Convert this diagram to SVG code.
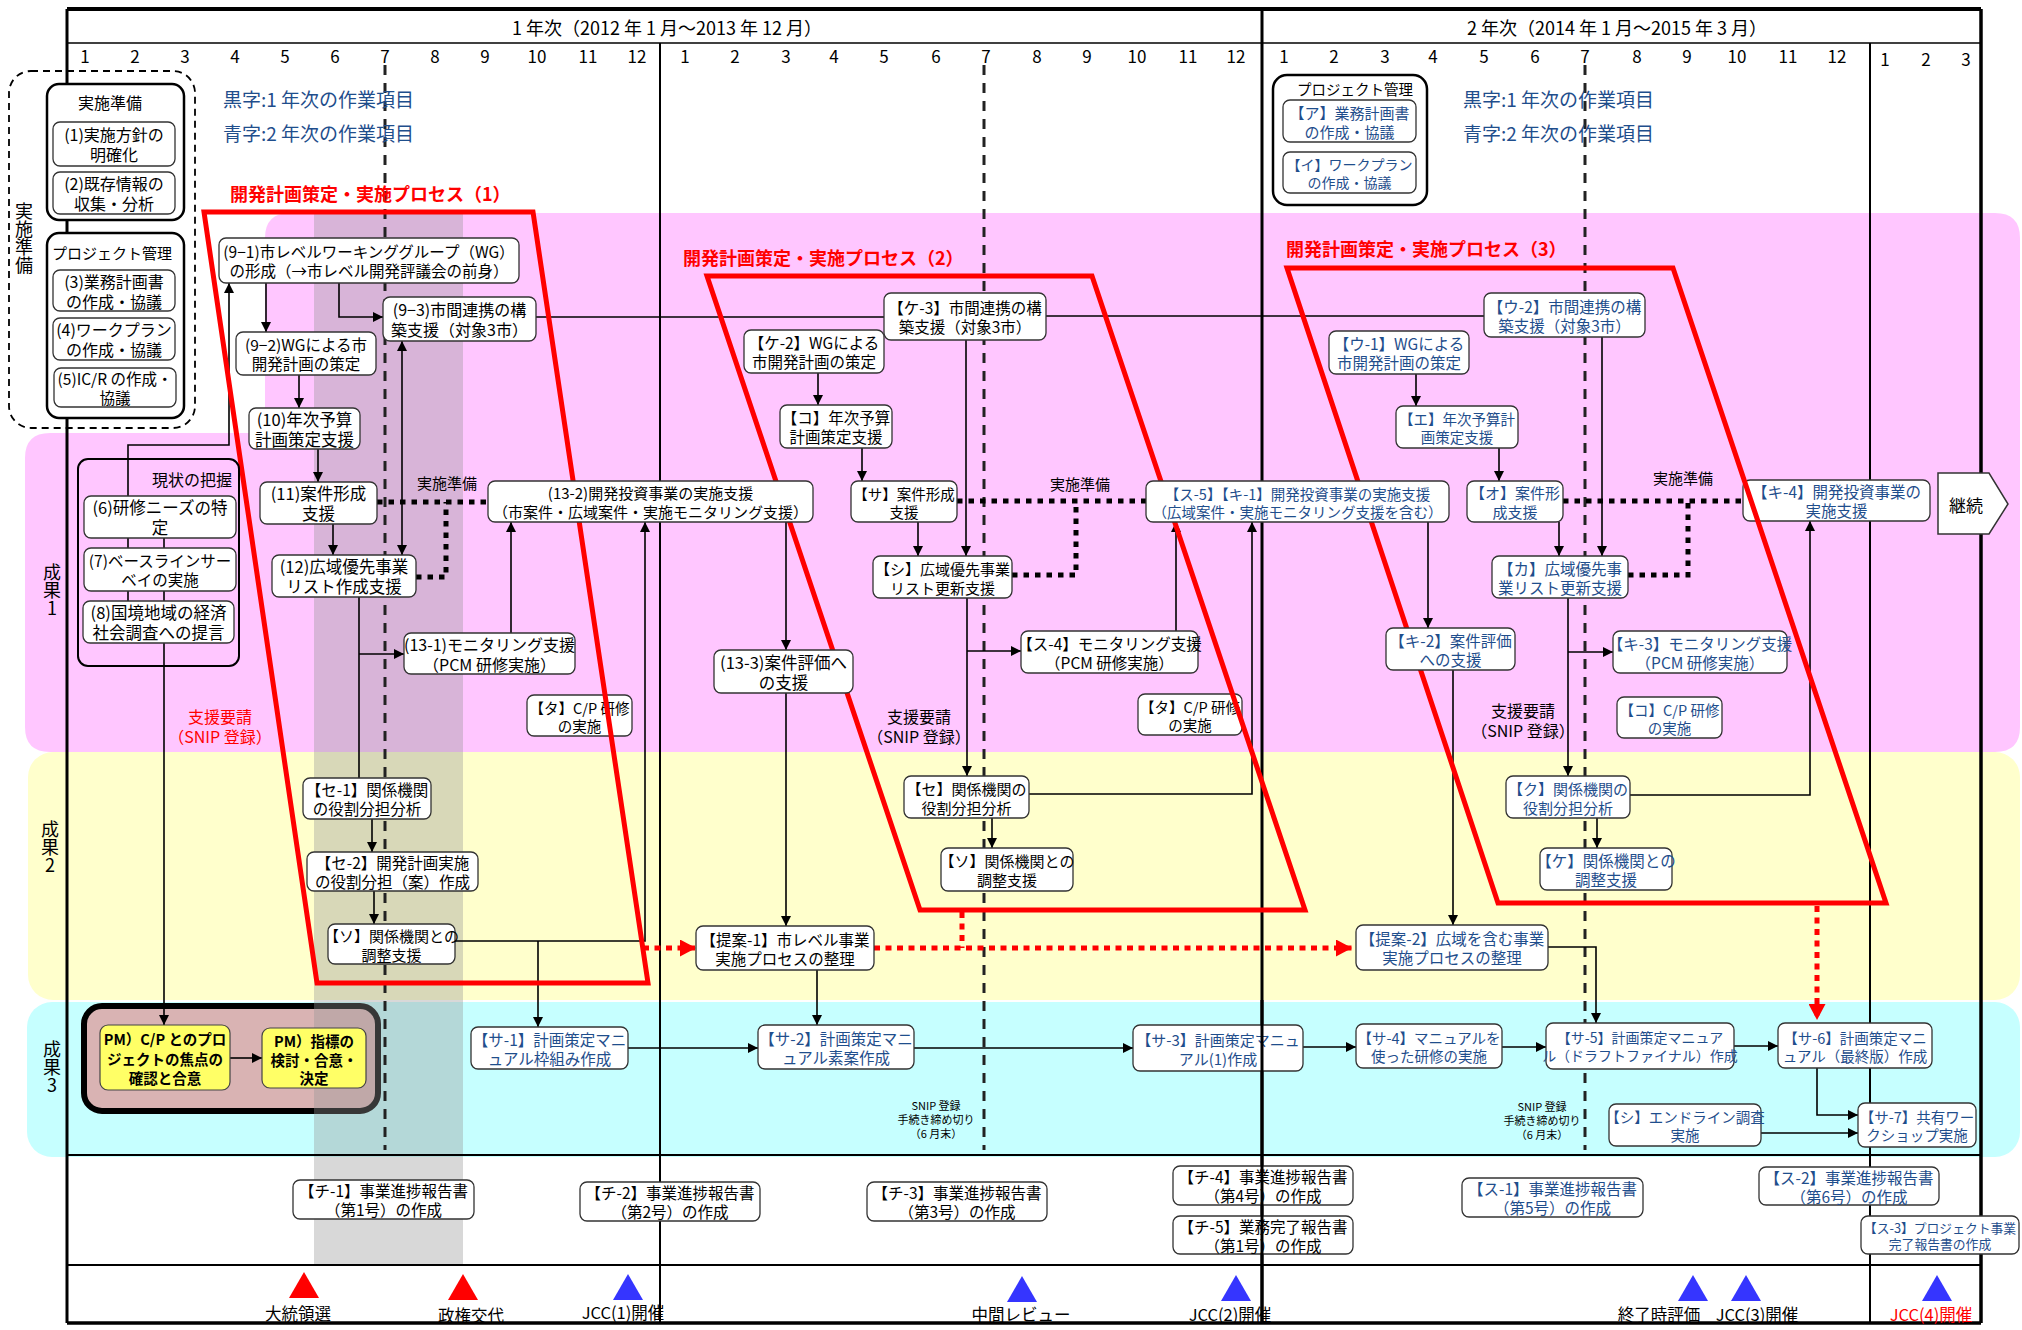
<svg xmlns="http://www.w3.org/2000/svg" width="2022" height="1330" viewBox="0 0 2022 1330">
<defs>
<style>
.t{font-family:"Noto Sans CJK JP","Noto Sans",sans-serif;text-anchor:middle;dominant-baseline:central;fill:#000}
.s{text-anchor:start}
.b{fill:#1F4E8C}
.r{fill:#FF0000}
.bold{font-weight:bold}
.v{writing-mode:vertical-rl;text-orientation:upright;font-size:18px}
.box{fill:#fff;stroke:#333;stroke-width:1.3}
.ln{fill:none;stroke:#000;stroke-width:1.6}
.dot{fill:none;stroke:#000;stroke-width:5;stroke-dasharray:5.5 6}
.rdot{fill:none;stroke:#FF0000;stroke-width:5;stroke-dasharray:6 5.5}
.proc{fill:none;stroke:#FF0000;stroke-width:5;stroke-linejoin:miter}
.dash{stroke:#222;stroke-width:3;stroke-dasharray:10 8}
.fr{stroke:#000;fill:none}
.ybox{fill:#FFFF66;stroke:#444;stroke-width:1.2}
</style>
<marker id="ah" viewBox="0 0 10 10" refX="10" refY="5" markerWidth="10" markerHeight="10" markerUnits="userSpaceOnUse" orient="auto-start-reverse"><path d="M0,0 L10,5 L0,10 z" fill="#000"/></marker>
<marker id="rah" viewBox="0 0 10 10" refX="10" refY="5" markerWidth="16" markerHeight="17" markerUnits="userSpaceOnUse" orient="auto" preserveAspectRatio="none"><path d="M0,0 L10,5 L0,10 z" fill="#FF0000"/></marker>
</defs>

<rect width="2022" height="1330" fill="#fff"/>

<g id="bands">
<path d="M290,213 H1995 Q2020,213 2020,238 V727 Q2020,752 1995,752 H50 Q25,752 25,727 V458 Q25,433 50,433 H265 V238 Q265,213 290,213 Z" fill="#FFC6FF"/>
<rect x="28" y="752" width="1992" height="248" rx="25" fill="#FFFFCC"/>
<rect x="27" y="1002" width="1993" height="155" rx="25" fill="#C6FFFF"/>
</g>

<g id="n_pm">
<rect x="84" y="1006" width="294" height="105" rx="18" fill="#D9B3B3" stroke="#000" stroke-width="6"/>
</g>

<rect id="shade" x="314" y="213" width="149" height="1052" fill="#969696" opacity="0.37"/>

<g id="frame">
<line class="fr" x1="67" y1="9" x2="1981" y2="9" stroke-width="4"/>
<line class="fr" x1="67" y1="9" x2="67" y2="1323" stroke-width="3"/>
<line class="fr" x1="1981" y1="9" x2="1981" y2="1323" stroke-width="3.5"/>
<line class="fr" x1="67" y1="1323" x2="1981" y2="1323" stroke-width="3.5"/>
<line class="fr" x1="67" y1="43" x2="1981" y2="43" stroke-width="1.5"/>
<line class="fr" x1="1262" y1="9" x2="1262" y2="1323" stroke-width="3"/>
<line class="fr" x1="660" y1="43" x2="660" y2="1323" stroke-width="2"/>
<line class="fr" x1="1870" y1="43" x2="1870" y2="1323" stroke-width="2"/>
<line class="fr" x1="67" y1="1155" x2="1981" y2="1155" stroke-width="2"/>
<line class="fr" x1="67" y1="1265" x2="1981" y2="1265" stroke-width="2"/>
<line class="dash" x1="385" y1="65" x2="385" y2="1150"/>
<line class="dash" x1="984" y1="65" x2="984" y2="1150"/>
<line class="dash" x1="1585" y1="65" x2="1585" y2="1150"/>
</g>

<g id="header">
<text class="t" x="667" y="27" style="font-size:18px">1 年次（2012 年 1 月～2013 年 12 月）</text>
<text class="t" x="1617" y="27" style="font-size:18px">2 年次（2014 年 1 月～2015 年 3 月）</text>
<text class="t" y="55" style="font-size:17px"><tspan x="85">1</tspan><tspan x="135">2</tspan><tspan x="185">3</tspan><tspan x="235">4</tspan><tspan x="285">5</tspan><tspan x="335">6</tspan><tspan x="385">7</tspan><tspan x="435">8</tspan><tspan x="485">9</tspan><tspan x="537">10</tspan><tspan x="588">11</tspan><tspan x="637">12</tspan><tspan x="685">1</tspan><tspan x="735">2</tspan><tspan x="786">3</tspan><tspan x="834">4</tspan><tspan x="884">5</tspan><tspan x="936">6</tspan><tspan x="986">7</tspan><tspan x="1037">8</tspan><tspan x="1087">9</tspan><tspan x="1137">10</tspan><tspan x="1188">11</tspan><tspan x="1236">12</tspan><tspan x="1284">1</tspan><tspan x="1334">2</tspan><tspan x="1385">3</tspan><tspan x="1433">4</tspan><tspan x="1484">5</tspan><tspan x="1535">6</tspan><tspan x="1585">7</tspan><tspan x="1637">8</tspan><tspan x="1687">9</tspan><tspan x="1737">10</tspan><tspan x="1788">11</tspan><tspan x="1837">12</tspan></text>
<text class="t" y="58" style="font-size:17px"><tspan x="1885">1</tspan><tspan x="1926">2</tspan><tspan x="1966">3</tspan></text>
<text class="t s b" x="223" y="98" style="font-size:19px">黒字:1 年次の作業項目</text>
<text class="t s b" x="223" y="132" style="font-size:19px">青字:2 年次の作業項目</text>
<text class="t s b" x="1463" y="98" style="font-size:19px">黒字:1 年次の作業項目</text>
<text class="t s b" x="1463" y="132" style="font-size:19px">青字:2 年次の作業項目</text>
</g>

<g id="rowlabels">
<text class="t v" x="24" y="238">実施準備</text>
<text class="t v" x="52" y="590">成果1</text>
<text class="t v" x="50" y="847">成果2</text>
<text class="t v" x="52" y="1067">成果3</text>
</g>

<g id="notes">
<text class="t r" style="font-size:16px"><tspan x="220" y="716">支援要請</tspan><tspan x="220" y="736">（SNIP 登録）</tspan></text>
<text class="t" style="font-size:16px"><tspan x="919" y="716">支援要請</tspan><tspan x="919" y="736">（SNIP 登録）</tspan></text>
<text class="t" style="font-size:16px"><tspan x="1523" y="710">支援要請</tspan><tspan x="1523" y="730">（SNIP 登録）</tspan></text>
<text class="t" x="447" y="482" style="font-size:15px">実施準備</text>
<text class="t" x="1080" y="483" style="font-size:15px">実施準備</text>
<text class="t" x="1683" y="477" style="font-size:15px">実施準備</text>
<text class="t" style="font-size:11px"><tspan x="936" y="1105">SNIP 登録</tspan><tspan x="936" y="1119">手続き締め切り</tspan><tspan x="936" y="1133">（6 月末）</tspan></text>
<text class="t" style="font-size:11px"><tspan x="1542" y="1106">SNIP 登録</tspan><tspan x="1542" y="1120">手続き締め切り</tspan><tspan x="1542" y="1134">（6 月末）</tspan></text>
</g>

<g id="connectors">
<path class="ln" d="M128,601 V445 H229 V283" marker-end="url(#ah)"/>
<path class="ln" d="M164,538 V1025" marker-end="url(#ah)"/>
<path class="ln" d="M266,283 V332" marker-end="url(#ah)"/>
<path class="ln" d="M339,283 V317 H383" marker-end="url(#ah)"/>
<path class="ln" d="M299,375 V408" marker-end="url(#ah)"/>
<path class="ln" d="M318,449 V482" marker-end="url(#ah)"/>
<path class="ln" d="M333,524 V555" marker-end="url(#ah)"/>
<path class="ln" d="M402,341 V555" marker-start="url(#ah)" marker-end="url(#ah)"/>
<path class="ln" d="M359,597 V778"/>
<path class="ln" d="M359,654 H404" marker-end="url(#ah)"/>
<path class="ln" d="M511,633 V522" marker-end="url(#ah)"/>
<path class="ln" d="M372,819 V852" marker-end="url(#ah)"/>
<path class="ln" d="M374,891 V924" marker-end="url(#ah)"/>
<path class="ln" d="M455,941 H645 V522" marker-end="url(#ah)"/>
<path class="ln" d="M538,941 V1027" marker-end="url(#ah)"/>
<path class="ln" d="M536,317 H884"/>
<path class="ln" d="M1046,316 H1484"/>
<path class="ln" d="M786,522 V650" marker-end="url(#ah)"/>
<path class="ln" d="M786,693 V926" marker-end="url(#ah)"/>
<path class="ln" d="M817,970 V1025" marker-end="url(#ah)"/>
<path class="ln" d="M628,1048 H758" marker-end="url(#ah)"/>
<path class="ln" d="M914,1048 H1133" marker-end="url(#ah)"/>
<path class="ln" d="M1303,1047 H1356" marker-end="url(#ah)"/>
<path class="ln" d="M1502,1047 H1546" marker-end="url(#ah)"/>
<path class="ln" d="M1734,1046 H1778" marker-end="url(#ah)"/>
<path class="ln" d="M818,373 V405" marker-end="url(#ah)"/>
<path class="ln" d="M862,448 V481" marker-end="url(#ah)"/>
<path class="ln" d="M918,522 V556" marker-end="url(#ah)"/>
<path class="ln" d="M966,340 V556" marker-end="url(#ah)"/>
<path class="ln" d="M967,598 V776" marker-end="url(#ah)"/>
<path class="ln" d="M967,651 H1021" marker-end="url(#ah)"/>
<path class="ln" d="M1176,631 V522" marker-end="url(#ah)"/>
<path class="ln" d="M992,818 V848" marker-end="url(#ah)"/>
<path class="ln" d="M1029,794 H1252 V522" marker-end="url(#ah)"/>
<path class="ln" d="M1428,522 V628" marker-end="url(#ah)"/>
<path class="ln" d="M1453,670 V925" marker-end="url(#ah)"/>
<path class="ln" d="M1416,374 V406" marker-end="url(#ah)"/>
<path class="ln" d="M1499,448 V481" marker-end="url(#ah)"/>
<path class="ln" d="M1559,522 V556" marker-end="url(#ah)"/>
<path class="ln" d="M1602,337 V556" marker-end="url(#ah)"/>
<path class="ln" d="M1568,598 V776" marker-end="url(#ah)"/>
<path class="ln" d="M1568,652 H1613" marker-end="url(#ah)"/>
<path class="ln" d="M1630,795 H1810 V521" marker-end="url(#ah)"/>
<path class="ln" d="M1597,818 V848" marker-end="url(#ah)"/>
<path class="ln" d="M1548,947 H1596 V1023" marker-end="url(#ah)"/>
<path class="ln" d="M1817,1068 V1115 H1858" marker-end="url(#ah)"/>
<path class="ln" d="M1761,1133 H1858" marker-end="url(#ah)"/>
<path class="ln" d="M230,1058 H262" marker-end="url(#ah)"/>
<path class="dot" d="M377,502 H488"/>
<path class="dot" d="M416,577 H446 V502"/>
<path class="dot" d="M957,501 H1146"/>
<path class="dot" d="M1012,575 H1076 V501"/>
<path class="dot" d="M1563,501 H1743"/>
<path class="dot" d="M1628,575 H1688 V501"/>
<path class="rdot" d="M643,948 H696" marker-end="url(#rah)"/>
<path class="rdot" d="M874,948 H1352" marker-end="url(#rah)"/>
<path class="rdot" d="M962,912 V948"/>
<path class="rdot" d="M1817,906 V1020" marker-end="url(#rah)"/>
</g>

<g id="n_ta1"><rect class="box" x="527" y="695" width="105" height="41" rx="7"/><text class="t" style="font-size:14.5px"><tspan x="579.5" y="706.5">【タ】C/P 研修</tspan><tspan x="579.5" y="724.5">の実施</tspan></text></g>
<g id="n_ta2"><rect class="box" x="1138" y="694" width="104" height="41" rx="7"/><text class="t" style="font-size:14.5px"><tspan x="1190" y="705.5">【タ】C/P 研修</tspan><tspan x="1190" y="723.5">の実施</tspan></text></g>
<g id="n_ki4"><rect class="box" x="1743" y="480" width="187" height="41" rx="7"/><text class="t b" style="font-size:15.5px"><tspan x="1836.5" y="491">【キ-4】開発投資事業の</tspan><tspan x="1836.5" y="510">実施支援</tspan></text></g>

<g id="processes">
<polygon class="proc" points="204,212 533,212 648,983 317,983"/>
<polygon class="proc" points="707,276 1092,276 1305,910 920,910"/>
<polygon class="proc" points="1287,268 1673,268 1886,903 1498,903"/>
<text class="t s r bold" x="230" y="193" style="font-size:18px">開発計画策定・実施プロセス（1）</text>
<text class="t s r bold" x="683" y="257" style="font-size:18px">開発計画策定・実施プロセス（2）</text>
<text class="t s r bold" x="1286" y="248" style="font-size:18px">開発計画策定・実施プロセス（3）</text>
</g>

<g id="n_prep_outer"><rect x="9" y="71" width="186" height="357" rx="22" fill="none" stroke="#000" stroke-width="1.8" stroke-dasharray="7 5"/></g>
<g id="n_prep"><rect x="47" y="84" width="137" height="136" rx="12" fill="#fff" stroke="#000" stroke-width="2.5"/><text class="t" x="110" y="102" style="font-size:16px">実施準備</text></g>
<g id="n_p1"><rect class="box" x="53" y="122" width="122" height="44" rx="7"/><text class="t" style="font-size:16px"><tspan x="114" y="134">(1)実施方針の</tspan><tspan x="114" y="154">明確化</tspan></text></g>
<g id="n_p2"><rect class="box" x="53" y="172" width="122" height="42" rx="7"/><text class="t" style="font-size:16px"><tspan x="114" y="183">(2)既存情報の</tspan><tspan x="114" y="203">収集・分析</tspan></text></g>
<g id="n_pmgmt"><rect x="47" y="233" width="137" height="185" rx="12" fill="#fff" stroke="#000" stroke-width="2.5"/><text class="t" x="112" y="252" style="font-size:15px">プロジェクト管理</text></g>
<g id="n_p3"><rect class="box" x="53" y="270" width="122" height="41" rx="7"/><text class="t" style="font-size:16px"><tspan x="114" y="280.5">(3)業務計画書</tspan><tspan x="114" y="300.5">の作成・協議</tspan></text></g>
<g id="n_p4"><rect class="box" x="53" y="318" width="122" height="42" rx="7"/><text class="t" style="font-size:16px"><tspan x="114" y="329">(4)ワークプラン</tspan><tspan x="114" y="349">の作成・協議</tspan></text></g>
<g id="n_p5"><rect class="box" x="54" y="368" width="122" height="39" rx="7"/><text class="t" style="font-size:15.5px"><tspan x="115" y="378">(5)IC/R の作成・</tspan><tspan x="115" y="397">協議</tspan></text></g>

<g id="n_genjo"><rect x="78" y="459" width="161" height="207" rx="10" fill="none" stroke="#000" stroke-width="2"/><text class="t" x="192" y="479" style="font-size:16px">現状の把握</text></g>
<g id="n6"><rect class="box" x="84" y="496" width="152" height="42" rx="7"/><text class="t" style="font-size:16.5px"><tspan x="160" y="507">(6)研修ニーズの特</tspan><tspan x="160" y="527">定</tspan></text></g>
<g id="n7"><rect class="box" x="84" y="548" width="152" height="43" rx="7"/><text class="t" style="font-size:15.5px"><tspan x="160" y="560">(7)ベースラインサー</tspan><tspan x="160" y="579">ベイの実施</tspan></text></g>
<g id="n8"><rect class="box" x="83" y="601" width="151" height="42" rx="7"/><text class="t" style="font-size:16.5px"><tspan x="158.5" y="612">(8)国境地域の経済</tspan><tspan x="158.5" y="632">社会調査への提言</tspan></text></g>

<g id="n91"><rect class="box" x="219" y="238" width="300" height="45" rx="7"/><text class="t" style="font-size:15.5px"><tspan x="369" y="251">(9−1)市レベルワーキンググループ（WG）</tspan><tspan x="369" y="270">の形成（→市レベル開発評議会の前身）</tspan></text></g>
<g id="n93"><rect class="box" x="383" y="297" width="153" height="44" rx="7"/><text class="t" style="font-size:16px"><tspan x="459.5" y="309">(9−3)市間連携の構</tspan><tspan x="459.5" y="329">築支援（対象3市）</tspan></text></g>
<g id="n92"><rect class="box" x="236" y="332" width="140" height="43" rx="7"/><text class="t" style="font-size:15.5px"><tspan x="306" y="344">(9−2)WGによる市</tspan><tspan x="306" y="363">開発計画の策定</tspan></text></g>
<g id="n10"><rect class="box" x="249" y="408" width="111" height="41" rx="7"/><text class="t" style="font-size:16.5px"><tspan x="304.5" y="418.5">(10)年次予算</tspan><tspan x="304.5" y="438.5">計画策定支援</tspan></text></g>
<g id="n11"><rect class="box" x="260" y="482" width="117" height="42" rx="7"/><text class="t" style="font-size:16.5px"><tspan x="318.5" y="493">(11)案件形成</tspan><tspan x="318.5" y="513">支援</tspan></text></g>
<g id="n12"><rect class="box" x="272" y="555" width="144" height="42" rx="7"/><text class="t" style="font-size:16.5px"><tspan x="344" y="566">(12)広域優先事業</tspan><tspan x="344" y="586">リスト作成支援</tspan></text></g>
<g id="n131"><rect class="box" x="404" y="633" width="171" height="41" rx="7"/><text class="t" style="font-size:16px"><tspan x="489.5" y="643.5">(13-1)モニタリング支援</tspan><tspan x="489.5" y="663.5">（PCM 研修実施）</tspan></text></g>
<g id="n132"><rect class="box" x="488" y="481" width="325" height="41" rx="7"/><text class="t" style="font-size:15px"><tspan x="650.5" y="492">(13-2)開発投資事業の実施支援</tspan><tspan x="650.5" y="511">（市案件・広域案件・実施モニタリング支援）</tspan></text></g>
<g id="n133"><rect class="box" x="714" y="650" width="139" height="43" rx="7"/><text class="t" style="font-size:16.5px"><tspan x="783.5" y="661.5">(13-3)案件評価へ</tspan><tspan x="783.5" y="681.5">の支援</tspan></text></g>
<g id="n_se1"><rect class="box" x="303" y="778" width="128" height="41" rx="7"/><text class="t" style="font-size:15.5px"><tspan x="367" y="789">【セ-1】関係機関</tspan><tspan x="367" y="808">の役割分担分析</tspan></text></g>
<g id="n_se2"><rect class="box" x="307" y="852" width="171" height="39" rx="7"/><text class="t" style="font-size:15.5px"><tspan x="392.5" y="862">【セ-2】開発計画実施</tspan><tspan x="392.5" y="881">の役割分担（案）作成</tspan></text></g>
<g id="n_so1"><rect class="box" x="328" y="924" width="127" height="40" rx="7"/><text class="t" style="font-size:15px"><tspan x="391.5" y="934.5">【ソ】関係機関との</tspan><tspan x="391.5" y="953.5">調整支援</tspan></text></g>

<g id="n_pm1"><rect class="ybox" x="100" y="1025" width="130" height="65" rx="8"/><text class="t bold" style="font-size:14.5px"><tspan x="165" y="1038">PM）C/P とのプロ</tspan><tspan x="165" y="1058">ジェクトの焦点の</tspan><tspan x="165" y="1077">確認と合意</tspan></text></g>
<g id="n_pm2"><rect class="ybox" x="262" y="1028" width="104" height="60" rx="8"/><text class="t bold" style="font-size:14.5px"><tspan x="314" y="1040">PM）指標の</tspan><tspan x="314" y="1059">検討・合意・</tspan><tspan x="314" y="1077">決定</tspan></text></g>

<g id="n_ke3"><rect class="box" x="884" y="293" width="162" height="47" rx="7"/><text class="t" style="font-size:15.5px"><tspan x="965" y="307">【ケ-3】市間連携の構</tspan><tspan x="965" y="326">築支援（対象3市）</tspan></text></g>
<g id="n_ke2"><rect class="box" x="744" y="330" width="140" height="43" rx="7"/><text class="t" style="font-size:15.5px"><tspan x="814" y="342">【ケ-2】WGによる</tspan><tspan x="814" y="361">市開発計画の策定</tspan></text></g>
<g id="n_ko"><rect class="box" x="780" y="405" width="112" height="43" rx="7"/><text class="t" style="font-size:15.5px"><tspan x="836" y="417">【コ】年次予算</tspan><tspan x="836" y="436">計画策定支援</tspan></text></g>
<g id="n_sa"><rect class="box" x="851" y="481" width="106" height="41" rx="7"/><text class="t" style="font-size:14.5px"><tspan x="904" y="492.5">【サ】案件形成</tspan><tspan x="904" y="510.5">支援</tspan></text></g>
<g id="n_shi"><rect class="box" x="873" y="556" width="139" height="42" rx="7"/><text class="t" style="font-size:15px"><tspan x="942.5" y="567.5">【シ】広域優先事業</tspan><tspan x="942.5" y="586.5">リスト更新支援</tspan></text></g>
<g id="n_se"><rect class="box" x="904" y="776" width="125" height="42" rx="7"/><text class="t" style="font-size:15px"><tspan x="966.5" y="787.5">【セ】関係機関の</tspan><tspan x="966.5" y="806.5">役割分担分析</tspan></text></g>
<g id="n_so2"><rect class="box" x="941" y="848" width="132" height="43" rx="7"/><text class="t" style="font-size:15px"><tspan x="1007" y="860">【ソ】関係機関との</tspan><tspan x="1007" y="879">調整支援</tspan></text></g>
<g id="n_su4"><rect class="box" x="1021" y="631" width="177" height="42" rx="7"/><text class="t" style="font-size:15.5px"><tspan x="1109.5" y="642.5">【ス-4】モニタリング支援</tspan><tspan x="1109.5" y="661.5">（PCM 研修実施）</tspan></text></g>
<g id="n_su5"><rect class="box" x="1146" y="481" width="303" height="41" rx="7"/><text class="t b" style="font-size:14.5px"><tspan x="1297.5" y="492.5">【ス-5】【キ-1】開発投資事業の実施支援</tspan><tspan x="1297.5" y="510.5">（広域案件・実施モニタリング支援を含む）</tspan></text></g>
<g id="n_tei1"><rect class="box" x="696" y="926" width="178" height="44" rx="7"/><text class="t" style="font-size:15.5px"><tspan x="785" y="938.5">【提案-1】市レベル事業</tspan><tspan x="785" y="957.5">実施プロセスの整理</tspan></text></g>
<g id="n_sa1"><rect class="box" x="471" y="1027" width="157" height="42" rx="7"/><text class="t b" style="font-size:15.5px"><tspan x="549.5" y="1038.5">【サ-1】計画策定マニ</tspan><tspan x="549.5" y="1057.5">ュアル枠組み作成</tspan></text></g>
<g id="n_sa2"><rect class="box" x="758" y="1025" width="156" height="44" rx="7"/><text class="t b" style="font-size:15.5px"><tspan x="836" y="1037.5">【サ-2】計画策定マニ</tspan><tspan x="836" y="1056.5">ュアル素案作成</tspan></text></g>
<g id="n_sa3"><rect class="box" x="1133" y="1025" width="170" height="46" rx="7"/><text class="t b" style="font-size:15px"><tspan x="1218" y="1038.5">【サ-3】計画策定マニュ</tspan><tspan x="1218" y="1057.5">アル(1)作成</tspan></text></g>
<g id="n_sa4"><rect class="box" x="1356" y="1024" width="146" height="44" rx="7"/><text class="t b" style="font-size:14.5px"><tspan x="1429" y="1037">【サ-4】マニュアルを</tspan><tspan x="1429" y="1055">使った研修の実施</tspan></text></g>
<g id="n_tei2"><rect class="box" x="1356" y="925" width="192" height="45" rx="7"/><text class="t b" style="font-size:15.5px"><tspan x="1452" y="938">【提案-2】広域を含む事業</tspan><tspan x="1452" y="957">実施プロセスの整理</tspan></text></g>
<g id="n_sa5"><rect class="box" x="1546" y="1023" width="188" height="46" rx="7"/><text class="t b" style="font-size:14px"><tspan x="1640" y="1037">【サ-5】計画策定マニュア</tspan><tspan x="1640" y="1055">ル（ドラフトファイナル）作成</tspan></text></g>
<g id="n_sa6"><rect class="box" x="1778" y="1023" width="154" height="45" rx="7"/><text class="t b" style="font-size:14.5px"><tspan x="1855" y="1036.5">【サ-6】計画策定マニ</tspan><tspan x="1855" y="1054.5">ュアル（最終版）作成</tspan></text></g>
<g id="n_sa7"><rect class="box" x="1858" y="1103" width="118" height="44" rx="7"/><text class="t b" style="font-size:14.5px"><tspan x="1917" y="1116">【サ-7】共有ワー</tspan><tspan x="1917" y="1134">クショップ実施</tspan></text></g>
<g id="n_shi2"><rect class="box" x="1609" y="1104" width="152" height="42" rx="7"/><text class="t b" style="font-size:14.5px"><tspan x="1685" y="1116">【シ】エンドライン調査</tspan><tspan x="1685" y="1134">実施</tspan></text></g>

<g id="n_pm_y2"><rect x="1273" y="75" width="154" height="130" rx="14" fill="#fff" stroke="#000" stroke-width="2.5"/><text class="t" x="1355" y="88" style="font-size:14.5px">プロジェクト管理</text></g>
<g id="n_a"><rect class="box" x="1283" y="100" width="133" height="42" rx="7"/><text class="t b" style="font-size:15px"><tspan x="1349.5" y="111.5">【ア】業務計画書</tspan><tspan x="1349.5" y="130.5">の作成・協議</tspan></text></g>
<g id="n_i"><rect class="box" x="1283" y="152" width="133" height="41" rx="7"/><text class="t b" style="font-size:14px"><tspan x="1349.5" y="163.5">【イ】ワークプラン</tspan><tspan x="1349.5" y="181.5">の作成・協議</tspan></text></g>
<g id="n_u1"><rect class="box" x="1329" y="331" width="140" height="43" rx="7"/><text class="t b" style="font-size:15.5px"><tspan x="1399" y="343">【ウ-1】WGによる</tspan><tspan x="1399" y="362">市開発計画の策定</tspan></text></g>
<g id="n_u2"><rect class="box" x="1484" y="293" width="161" height="44" rx="7"/><text class="t b" style="font-size:15.5px"><tspan x="1564.5" y="305.5">【ウ-2】市間連携の構</tspan><tspan x="1564.5" y="324.5">築支援（対象3市）</tspan></text></g>
<g id="n_e"><rect class="box" x="1396" y="406" width="122" height="42" rx="7"/><text class="t b" style="font-size:14.5px"><tspan x="1457" y="418">【エ】年次予算計</tspan><tspan x="1457" y="436">画策定支援</tspan></text></g>
<g id="n_o"><rect class="box" x="1467" y="481" width="96" height="41" rx="7"/><text class="t b" style="font-size:15px"><tspan x="1515" y="492">【オ】案件形</tspan><tspan x="1515" y="511">成支援</tspan></text></g>
<g id="n_ka"><rect class="box" x="1492" y="556" width="136" height="42" rx="7"/><text class="t b" style="font-size:15.5px"><tspan x="1560" y="567.5">【カ】広域優先事</tspan><tspan x="1560" y="586.5">業リスト更新支援</tspan></text></g>
<g id="n_ki2"><rect class="box" x="1386" y="628" width="129" height="42" rx="7"/><text class="t b" style="font-size:15.5px"><tspan x="1450.5" y="639.5">【キ-2】案件評価</tspan><tspan x="1450.5" y="658.5">への支援</tspan></text></g>
<g id="n_ki3"><rect class="box" x="1613" y="631" width="174" height="42" rx="7"/><text class="t b" style="font-size:15.5px"><tspan x="1700" y="642.5">【キ-3】モニタリング支援</tspan><tspan x="1700" y="661.5">（PCM 研修実施）</tspan></text></g>
<g id="n_ko2"><rect class="box" x="1617" y="697" width="105" height="41" rx="7"/><text class="t b" style="font-size:14.5px"><tspan x="1669.5" y="708.5">【コ】C/P 研修</tspan><tspan x="1669.5" y="726.5">の実施</tspan></text></g>
<g id="n_ku"><rect class="box" x="1506" y="776" width="124" height="42" rx="7"/><text class="t b" style="font-size:15px"><tspan x="1568" y="787.5">【ク】関係機関の</tspan><tspan x="1568" y="806.5">役割分担分析</tspan></text></g>
<g id="n_ke"><rect class="box" x="1540" y="848" width="132" height="42" rx="7"/><text class="t b" style="font-size:15.5px"><tspan x="1606" y="859.5">【ケ】関係機関との</tspan><tspan x="1606" y="878.5">調整支援</tspan></text></g>
<g id="n_keizoku"><polygon points="1938,473 1989,473 2008,504 1989,534 1938,534" fill="#fff" stroke="#333" stroke-width="1.5"/><text class="t" x="1966" y="504" style="font-size:17px">継続</text></g>

<g id="n_ti1"><rect class="box" x="293" y="1180" width="181" height="39" rx="7"/><text class="t" style="font-size:15.5px"><tspan x="383.5" y="1190">【チ-1】事業進捗報告書</tspan><tspan x="383.5" y="1209">（第1号）の作成</tspan></text></g>
<g id="n_ti2"><rect class="box" x="580" y="1182" width="180" height="39" rx="7"/><text class="t" style="font-size:15.5px"><tspan x="670" y="1192">【チ-2】事業進捗報告書</tspan><tspan x="670" y="1211">（第2号）の作成</tspan></text></g>
<g id="n_ti3"><rect class="box" x="867" y="1182" width="180" height="39" rx="7"/><text class="t" style="font-size:15.5px"><tspan x="957" y="1192">【チ-3】事業進捗報告書</tspan><tspan x="957" y="1211">（第3号）の作成</tspan></text></g>
<g id="n_ti4"><rect class="box" x="1173" y="1166" width="180" height="39" rx="7"/><text class="t" style="font-size:15.5px"><tspan x="1263" y="1176">【チ-4】事業進捗報告書</tspan><tspan x="1263" y="1195">（第4号）の作成</tspan></text></g>
<g id="n_ti5"><rect class="box" x="1173" y="1216" width="180" height="38" rx="7"/><text class="t" style="font-size:15.5px"><tspan x="1263" y="1225.5">【チ-5】業務完了報告書</tspan><tspan x="1263" y="1244.5">（第1号）の作成</tspan></text></g>
<g id="n_su1"><rect class="box" x="1462" y="1178" width="181" height="39" rx="7"/><text class="t b" style="font-size:15.5px"><tspan x="1552.5" y="1188">【ス-1】事業進捗報告書</tspan><tspan x="1552.5" y="1207">（第5号）の作成</tspan></text></g>
<g id="n_su2"><rect class="box" x="1759" y="1167" width="180" height="38" rx="7"/><text class="t b" style="font-size:15.5px"><tspan x="1849" y="1176.5">【ス-2】事業進捗報告書</tspan><tspan x="1849" y="1195.5">（第6号）の作成</tspan></text></g>
<g id="n_su3"><rect class="box" x="1861" y="1216" width="158" height="38" rx="7"/><text class="t b" style="font-size:12.8px"><tspan x="1940" y="1227">【ス-3】プロジェクト事業</tspan><tspan x="1940" y="1243">完了報告書の作成</tspan></text></g>

<line class="fr" x1="1262" y1="1000" x2="1262" y2="1323" stroke-width="3"/>

<g id="milestones">
<polygon points="289,1298 304,1272 319,1298" fill="#FF0000"/>
<polygon points="448,1300 463,1274 478,1300" fill="#FF0000"/>
<polygon points="613,1300 628,1274 643,1300" fill="#3535FF"/>
<polygon points="1007,1302 1022,1276 1037,1302" fill="#3535FF"/>
<polygon points="1221,1301 1236,1275 1251,1301" fill="#3535FF"/>
<polygon points="1678,1301 1693,1275 1708,1301" fill="#3535FF"/>
<polygon points="1731,1301 1746,1275 1761,1301" fill="#3535FF"/>
<polygon points="1922,1301 1937,1275 1952,1301" fill="#3535FF"/>
<text class="t" x="298" y="1313" style="font-size:16.5px">大統領選</text>
<text class="t" x="471" y="1315" style="font-size:16.5px">政権交代</text>
<text class="t" x="623" y="1312" style="font-size:16.5px">JCC(1)開催</text>
<text class="t" x="1021" y="1314" style="font-size:16.5px">中間レビュー</text>
<text class="t" x="1230" y="1314" style="font-size:16.5px">JCC(2)開催</text>
<text class="t" x="1659" y="1314" style="font-size:16.5px">終了時評価</text>
<text class="t" x="1757" y="1314" style="font-size:16.5px">JCC(3)開催</text>
<text class="t r" x="1931" y="1314" style="font-size:16.5px">JCC(4)開催</text>
</g>
</svg>
